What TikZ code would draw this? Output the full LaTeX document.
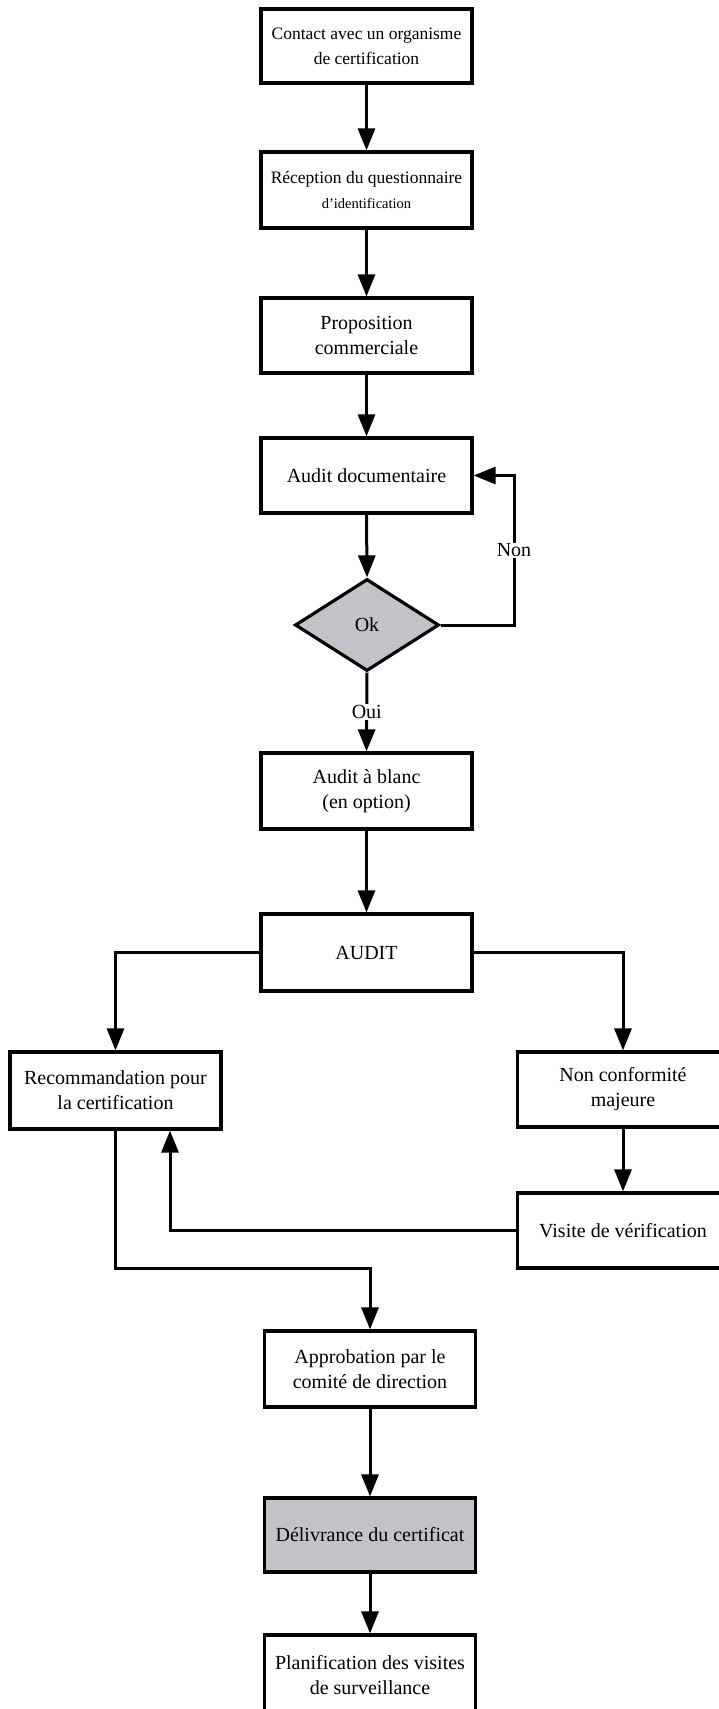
\documentclass[tikz,border=0pt]{standalone}
\usepackage{fontspec}
\setmainfont{Liberation Serif}
\usetikzlibrary{arrows.meta,shapes.geometric,calc}
\definecolor{boxgray}{RGB}{196,194,200}
\tikzset{
  box/.style={draw=black, line width=3.2pt, fill=white, rectangle, minimum width=211pt, minimum height=75pt, inner sep=0pt, align=center, font=\fontsize{20}{25}\selectfont},
  smallbox/.style={box, font=\fontsize{17.5}{25}\selectfont},
  graybox/.style={box, fill=boxgray},
  decision/.style={draw=black, line width=3.2pt, fill=boxgray, diamond, minimum width=144pt, minimum height=92pt, inner sep=0pt, font=\fontsize{20}{25}\selectfont},
  conn/.style={line width=3pt},
  arr/.style={conn, -{Triangle[width=17pt,length=22pt]}},
  lbl/.style={fill=white, inner sep=1pt, font=\fontsize{20}{25}\selectfont}
}
\begin{document}
\begin{tikzpicture}[x=1pt,y=-1pt]
\useasboundingbox (0,0) rectangle (719,1709);
\begin{scope}
\clip (0,0) rectangle (719,1709);
\node[smallbox, minimum height=74pt] (c1) at (366.5,46) {Contact avec un organisme\\de certification};
\node[smallbox, minimum height=76pt] (c2) at (366.5,190) {Réception du questionnaire\\{\fontsize{14.5}{25}\selectfont d'identification}};
\node[box] (c3) at (366.5,335.5) {Proposition\\commerciale};
\node[box] (c4) at (366.5,475.5) {Audit documentaire};
\node[decision] (d) at (367,625) {Ok};
\node[box, minimum height=76pt] (c5) at (366.5,791) {Audit à blanc\\(en option)};
\node[box, minimum height=77pt] (audit) at (366.5,952.5) {AUDIT};
\node[box, minimum height=77pt] (rec) at (115.5,1090.5) {Recommandation pour\\la certification};
\node[box] (nc) at (623,1089.5) {Non conformité\\majeure};
\node[box] (vis) at (623,1230.5) {Visite de vérification};
\node[box, minimum height=76pt] (app) at (370,1369) {Approbation par le\\comité de direction};
\node[graybox, minimum height=74pt] (del) at (370,1535) {Délivrance du certificat};
\node[box, minimum height=80pt] (plan) at (370,1675) {Planification des visites\\de surveillance};

\coordinate (nonc) at (514,625);
\coordinate (jn) at (115.5,1268);

\draw[arr] (c1.south) -- (c2.north);
\draw[arr] (c2.south) -- (c3.north);
\draw[arr] (c3.south) -- (c4.north);
\draw[arr] (c4.south) -- (d.north);
\draw[arr] (d.east) -- (nonc) |- (c4.east) node[lbl, pos=0.25] {Non};
\draw[arr] (d.south) -- (c5.north) node[lbl, pos=0.5] {Oui};
\draw[arr] (c5.south) -- (audit.north);
\draw[arr] (audit.west) -| (rec.north);
\draw[arr] (audit.east) -| (nc.north);
\draw[arr] (nc.south) -- (vis.north);
\draw[arr] (vis.west) -| ([xshift=54.5pt]rec.south);
\draw[arr] (rec.south) -- (jn) -| (app.north);
\draw[arr] (app.south) -- (del.north);
\draw[arr] (del.south) -- (plan.north);
\end{scope}
\end{tikzpicture}
\end{document}
